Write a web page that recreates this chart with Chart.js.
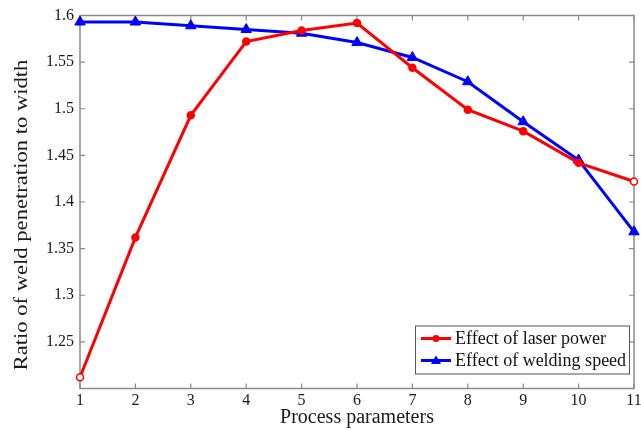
<!DOCTYPE html>
<html><head><meta charset="utf-8">
<script src="https://cdn.jsdelivr.net/npm/chart.js@4.4.1/dist/chart.umd.min.js"></script>
<style>html,body{margin:0;padding:0;background:#fff}#wrap{width:641px;height:430px;position:relative}canvas{display:block}</style>
</head><body><div id="wrap"><canvas id="c" width="641" height="430" style="width:641px;height:430px"></canvas></div>
<script>
const processParams = [1, 2, 3, 4, 5, 6, 7, 8, 9, 10, 11];
const laserPower   = [1.212, 1.362, 1.493, 1.572, 1.584, 1.592, 1.544, 1.499, 1.476, 1.442, 1.422];
const weldingSpeed = [1.593, 1.593, 1.589, 1.585, 1.581, 1.571, 1.555, 1.529, 1.486, 1.445, 1.368];
const seriesNames = ['Effect of laser power', 'Effect of welding speed'];
const xTicks = [1, 2, 3, 4, 5, 6, 7, 8, 9, 10, 11];
const yTicks = [1.2, 1.25, 1.3, 1.35, 1.4, 1.45, 1.5, 1.55, 1.6];
const xTitle = 'Process parameters';
const yTitle = 'Ratio of weld penetration to width';

const SERIF = '"Liberation Serif", "Times New Roman", serif';
const FRAME = '#8a8a8a';

function pts(ys) { return processParams.map((x, i) => ({x: x, y: ys[i]})); }
function hollowEnds(color, n) { return Array.from({length: n}, (_, i) => (i === 0 || i === n - 1) ? '#ffffff' : color); }

const framePlugin = {
  id: 'frame',
  beforeDatasetsDraw(chart) {
    const {ctx, chartArea: a, scales} = chart;
    ctx.save();
    ctx.strokeStyle = FRAME;
    ctx.lineWidth = 1.5;
    ctx.strokeRect(a.left, a.top, a.right - a.left, a.bottom - a.top);
    ctx.lineWidth = 1.2;
    const L = 5;
    ctx.beginPath();
    xTicks.forEach(v => {
      const px = scales.x.getPixelForValue(v);
      ctx.moveTo(px, a.bottom); ctx.lineTo(px, a.bottom - L);
      ctx.moveTo(px, a.top); ctx.lineTo(px, a.top + L);
    });
    yTicks.forEach(v => {
      const py = scales.y.getPixelForValue(v);
      ctx.moveTo(a.left, py); ctx.lineTo(a.left + L, py);
      ctx.moveTo(a.right, py); ctx.lineTo(a.right - L, py);
    });
    ctx.stroke();
    // y axis title
    ctx.fillStyle = '#1a1a1a';
    ctx.font = '19px ' + SERIF;
    ctx.textAlign = 'center';
    ctx.textBaseline = 'middle';
    ctx.translate(22, 215);
    ctx.rotate(-Math.PI / 2);
    ctx.scale(1.19, 1);
    ctx.fillText(yTitle, 0, 0);
    ctx.restore();
  },
  afterDatasetsDraw(chart) {
    const {ctx, chartArea: a} = chart;
    const ds = chart.data.datasets;
    ctx.save();
    const w = 214, h = 48;
    const x0 = a.right - 5 - w, y0 = a.bottom - 15 - h;
    ctx.fillStyle = '#fff';
    ctx.fillRect(x0, y0, w, h);
    ctx.strokeStyle = '#555';
    ctx.lineWidth = 1;
    ctx.strokeRect(x0 + 0.5, y0 + 0.5, w, h);
    ds.forEach((d, i) => {
      const cy = y0 + 13 + i * 22;
      ctx.strokeStyle = d.borderColor;
      ctx.lineWidth = 3;
      ctx.beginPath(); ctx.moveTo(x0 + 6, cy); ctx.lineTo(x0 + 36, cy); ctx.stroke();
      ctx.fillStyle = d.borderColor;
      const mx = x0 + 21;
      ctx.beginPath();
      if (d.pointStyle === 'triangle') {
        const r = 5;
        ctx.moveTo(mx, cy - r); ctx.lineTo(mx + r, cy + r * 0.7); ctx.lineTo(mx - r, cy + r * 0.7); ctx.closePath();
      } else {
        ctx.arc(mx, cy, 3.5, 0, Math.PI * 2);
      }
      ctx.fill();
      ctx.fillStyle = '#111';
      ctx.font = '18px ' + SERIF;
      ctx.textAlign = 'left';
      ctx.textBaseline = 'middle';
      ctx.fillText(d.label, x0 + 40, cy + 1);
    });
    ctx.restore();
  }
};

new Chart(document.getElementById('c'), {
  type: 'line',
  data: {
    datasets: [
      {
        label: seriesNames[0], data: pts(laserPower),
        borderColor: '#ff0000', backgroundColor: '#ff0000', borderWidth: 3,
        pointStyle: 'circle', pointRadius: 3.5, pointBorderWidth: 1.5,
        pointBackgroundColor: hollowEnds('#ff0000', laserPower.length), pointBorderColor: '#ff0000',
        tension: 0, clip: false
      },
      {
        label: seriesNames[1], data: pts(weldingSpeed),
        borderColor: '#0000ff', backgroundColor: '#0000ff', borderWidth: 3,
        pointStyle: 'triangle', pointRadius: 6, pointBorderWidth: 1,
        pointBackgroundColor: '#0000ff', pointBorderColor: '#0000ff',
        tension: 0, clip: false
      }
    ]
  },
  options: {
    responsive: false,
    animation: false,
    devicePixelRatio: 1,
    layout: {padding: {top: 15.5, right: 6, left: 0, bottom: 0}},
    plugins: {legend: {display: false}, tooltip: {enabled: false}},
    scales: {
      x: {
        type: 'linear', min: 1, max: 11,
        afterBuildTicks: s => { s.ticks = xTicks.map(v => ({value: v})); },
        afterFit: s => { s.height = 41.5; s.paddingLeft = 0; s.paddingRight = 0; },
        grid: {display: false, drawTicks: false},
        border: {display: false},
        ticks: {color: '#1a1a1a', font: {family: SERIF, size: 16}, padding: 3, maxRotation: 0, autoSkip: false,
                callback: v => String(v)},
        title: {display: true, text: xTitle, color: '#1a1a1a', font: {family: SERIF, size: 20}, padding: {top: 0, bottom: 0}}
      },
      y: {
        type: 'linear', min: 1.2, max: 1.6,
        afterBuildTicks: s => { s.ticks = yTicks.map(v => ({value: v})); },
        afterFit: s => { s.width = 80; s.paddingTop = 0; s.paddingBottom = 0; },
        grid: {display: false, drawTicks: false},
        border: {display: false},
        ticks: {color: '#1a1a1a', font: {family: SERIF, size: 16}, padding: 6, autoSkip: false,
                callback: v => (Math.abs(v - 1.2) < 1e-9 ? '' : String(Math.round(v * 100) / 100))}
      }
    }
  },
  plugins: [framePlugin]
});
</script>
</body></html>
